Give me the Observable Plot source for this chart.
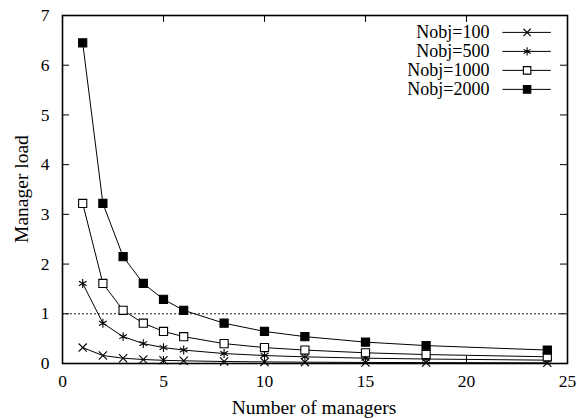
<!DOCTYPE html>
<html>
<head>
<meta charset="utf-8">
<script src="https://cdn.jsdelivr.net/npm/d3@7"></script>
<script src="https://cdn.jsdelivr.net/npm/@observablehq/plot@0.6"></script>
<style>
  html, body { margin: 0; padding: 0; background: #fff; }
  #chart { width: 577px; height: 419px; }
</style>
</head>
<body>
<div id="chart"></div>
<script>
const managers = [1, 2, 3, 4, 5, 6, 8, 10, 12, 15, 18, 24];
const load100  = [0.32, 0.16, 0.107, 0.08, 0.064, 0.054, 0.04, 0.032, 0.027, 0.021, 0.018, 0.013];
const load500  = [1.61, 0.81, 0.54, 0.40, 0.32, 0.27, 0.20, 0.16, 0.134, 0.107, 0.09, 0.067];
const load1000 = [3.22, 1.61, 1.07, 0.81, 0.645, 0.54, 0.40, 0.32, 0.27, 0.215, 0.18, 0.135];
const load2000 = [6.45, 3.22, 2.15, 1.61, 1.29, 1.07, 0.81, 0.645, 0.54, 0.43, 0.36, 0.27];
const seriesNames = ["Nobj=100", "Nobj=500", "Nobj=1000", "Nobj=2000"];
const xTicks = [0, 5, 10, 15, 20, 25];
const yTicks = [0, 1, 2, 3, 4, 5, 6, 7];
const threshold = [1];

const seriesValues = [load100, load500, load1000, load2000];
const symbols = ["times", "asterisk", "square", "square"];
const fills = ["none", "none", "white", "black"];
const sizes = [3.8, 4.2, 4.6, 4.6];

const data = seriesValues.flatMap((vals, i) =>
  managers.map((m, j) => ({ m, v: vals[j], s: seriesNames[i], i })));

const FONT = "Liberation Serif";
const marks = [];

// threshold line
marks.push(Plot.ruleY(threshold, { x1: 0, x2: 24.8, stroke: "black", strokeWidth: 0.9, strokeDasharray: "2,2" }));

// series
seriesNames.forEach((name, i) => {
  const d = data.filter(r => r.i === i);
  marks.push(Plot.line(d, { x: "m", y: "v", stroke: "black", strokeWidth: 1 }));
  marks.push(Plot.dot(d, { x: "m", y: "v", symbol: () => symbols[i], r: sizes[i], stroke: "black", strokeWidth: 1.1, fill: fills[i] }));
});

// legend
const legTextX = 21.14, legL1 = 21.8, legL2 = 24.2, legM = 23.0;
const legY0 = 6.66, legStep = 0.382;
seriesNames.forEach((name, i) => {
  const y = legY0 - legStep * i;
  marks.push(Plot.text([name], { x: legTextX, y, text: d => d, textAnchor: "end", fontSize: 18, fontFamily: FONT, fill: "black" }));
  marks.push(Plot.ruleY([y], { x1: legL1, x2: legL2, stroke: "black", strokeWidth: 1 }));
  marks.push(Plot.dot([y], { x: legM, y: d => d, symbol: () => symbols[i], r: sizes[i] - 0.4, stroke: "black", strokeWidth: 1.1, fill: fills[i] }));
});

// inward ticks (mirrored)
marks.push(Plot.ruleX(xTicks.slice(1, -1), { y1: 0, y2: 0.14, stroke: "black", strokeWidth: 1 }));
marks.push(Plot.ruleX(xTicks.slice(1, -1), { y1: 7, y2: 6.86, stroke: "black", strokeWidth: 1 }));
marks.push(Plot.ruleY(yTicks.slice(1, -1), { x1: 0, x2: 0.35, stroke: "black", strokeWidth: 1 }));
marks.push(Plot.ruleY(yTicks.slice(1, -1), { x1: 25, x2: 24.65, stroke: "black", strokeWidth: 1 }));

// axes labels
marks.push(Plot.axisX(xTicks, { tickSize: 0, tickPadding: 11, fontSize: 17.5, fontFamily: FONT, tickFormat: d3.format("d"), label: null }));
marks.push(Plot.axisY(yTicks, { tickSize: 0, tickPadding: 13, fontSize: 17.5, fontFamily: FONT, tickFormat: d3.format("d"), label: null }));
marks.push(Plot.frame({ stroke: "black", strokeWidth: 1.6 }));

const chart = Plot.plot({
  width: 577,
  height: 419,
  marginLeft: 62,
  marginRight: 10,
  marginTop: 15,
  marginBottom: 56,
  x: { domain: [0, 25] },
  y: { domain: [0, 7] },
  marks
});

// axis titles as real text within the SVG
const svg = d3.select(chart);
svg.attr("font-family", FONT).style("background", "white").style("overflow", "visible");
svg.append("text").attr("x", 314).attr("y", 414).attr("text-anchor", "middle")
  .attr("font-size", 19.5).attr("fill", "black").text("Number of managers");
svg.append("text").attr("transform", "translate(28,189) rotate(-90)").attr("text-anchor", "middle")
  .attr("font-size", 19.5).attr("fill", "black").text("Manager load");
svg.selectAll("g, text").attr("font-family", FONT).style("font-family", FONT);

document.getElementById("chart").appendChild(chart);
</script>
</body>
</html>
